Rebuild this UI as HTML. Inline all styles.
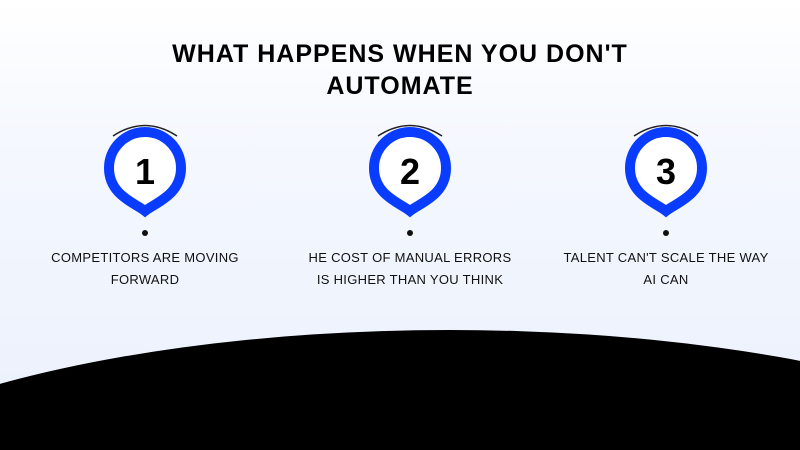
<!DOCTYPE html>
<html style="overflow:hidden;width:800px;height:450px"><head><meta charset="utf-8"><style>
html,body{margin:0;padding:0}
body{width:800px;height:450px;overflow:hidden;position:relative;background:linear-gradient(#ffffff 0%,#f5f8fe 30%,#eaf0fc 100%);font-family:"Liberation Sans",sans-serif}
.title{position:absolute;left:0;width:800px;top:38px;text-align:center;font-weight:bold;font-size:25px;line-height:32px;color:#000;letter-spacing:1px}
.lab{position:absolute;width:260px;text-align:center;font-size:13px;line-height:22px;color:#111;letter-spacing:0.3px}
svg{position:absolute;left:0;top:0}
</style></head><body>
<svg width="800" height="450">
<ellipse cx="450" cy="560" rx="700" ry="230" fill="#000"/>
<g fill="#fff" stroke="#0a3cff" stroke-width="10">
<path d="M145 211 C135 203 109 195 109 168 A36 36 0 0 1 181 168 C181 195 155 203 145 211 Z"/>
<path d="M410 211 C400 203 374 195 374 168 A36 36 0 0 1 446 168 C446 195 420 203 410 211 Z"/>
<path d="M666 211 C656 203 630 195 630 168 A36 36 0 0 1 702 168 C702 195 676 203 666 211 Z"/>
</g>
<g fill="none" stroke="#222" stroke-width="1.5">
<path d="M113 136 Q145 115 177 136"/>
<path d="M378 136 Q410 115 442 136"/>
<path d="M634 136 Q666 115 698 136"/>
</g>
<g fill="#111"><circle cx="145" cy="233" r="3"/><circle cx="410" cy="233" r="3"/><circle cx="666" cy="233" r="3"/></g>
<g font-family="Liberation Sans, sans-serif" font-weight="bold" font-size="36" text-anchor="middle" fill="#000">
<text x="145" y="184">1</text><text x="410" y="184">2</text><text x="666" y="184">3</text>
</g>
</svg>
<div class="title">WHAT HAPPENS WHEN YOU DON'T<br>AUTOMATE</div>
<div class="lab" style="left:15px;top:247px">COMPETITORS ARE MOVING<br>FORWARD</div>
<div class="lab" style="left:280px;top:247px">HE COST OF MANUAL ERRORS<br>IS HIGHER THAN YOU THINK</div>
<div class="lab" style="left:536px;top:247px">TALENT CAN'T SCALE THE WAY<br>AI CAN</div>
</body></html>
